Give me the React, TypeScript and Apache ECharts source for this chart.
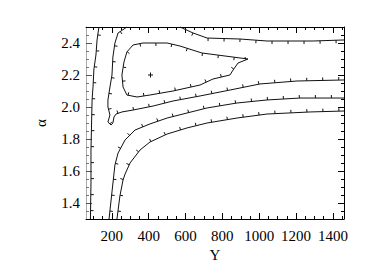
import { useEffect, useRef } from "react";
import * as echarts from "echarts";

// Axis ticks and labels
const xLabels = [200, 400, 600, 800, 1000, 1200, 1400];
const xMinorTicks = [100, 150, 200, 250, 300, 350, 400, 450, 500, 550, 600, 650, 700, 750, 800, 850, 900, 950, 1000, 1050, 1100, 1150, 1200, 1250, 1300, 1350, 1400, 1450];
const yLabels = [1.4, 1.6, 1.8, 2.0, 2.2, 2.4];
const yMinorTicks = [1.35, 1.4, 1.45, 1.5, 1.55, 1.6, 1.65, 1.7, 1.75, 1.8, 1.85, 1.9, 1.95, 2.0, 2.05, 2.1, 2.15, 2.2, 2.25, 2.3, 2.35, 2.4, 2.45];

// Best fit point
const bestFit: [number, number] = [410, 2.2];

// Contours [Y, alpha]
const contourLeft: [number, number][] = [
  [130, 2.5], [120, 2.419], [114, 2.325], [103, 2.2375], [98, 2.125], [93, 2.044], [87, 1.731], [87, 1.525], [84, 1.3],
];
const contourInner: [number, number][] = [
  [255, 2.2], [266, 2.281], [282, 2.344], [315, 2.3875], [369, 2.4], [500, 2.4], [570, 2.381], [689, 2.3375], [939, 2.3],
  [885, 2.275], [858, 2.231], [841, 2.2], [749, 2.175], [679, 2.1375], [532, 2.1], [407, 2.075], [337, 2.0625],
  [282, 2.075], [261, 2.125], [255, 2.2],
];
const contourSecondTop: [number, number][] = [
  [1460, 2.419], [1292, 2.4125], [1042, 2.4125], [896, 2.425], [717, 2.431], [641, 2.4625], [570, 2.5],
];
const contourSecond: [number, number][] = [
  [282, 2.5], [234, 2.4625], [217, 2.4], [206, 2.3125], [201, 2.2], [190, 2.125], [179, 2.044], [179, 2.0], [190, 1.95],
  [179, 1.906], [196, 1.8875], [206, 1.9], [212, 1.9375], [223, 1.956], [255, 1.969], [315, 1.981], [424, 2.006],
  [532, 2.0375], [679, 2.069], [841, 2.106], [1004, 2.144], [1205, 2.1625], [1460, 2.169],
];
const contourThird: [number, number][] = [
  [185, 1.3], [201, 1.469], [217, 1.6375], [234, 1.7125], [272, 1.794], [326, 1.856], [407, 1.894], [500, 1.931],
  [608, 1.9625], [717, 1.994], [879, 2.025], [1042, 2.044], [1221, 2.056], [1460, 2.056],
];
const contourFourth: [number, number][] = [
  [228, 1.3], [244, 1.444], [261, 1.544], [272, 1.581], [299, 1.65], [353, 1.731], [407, 1.781], [500, 1.831],
  [608, 1.869], [717, 1.9], [879, 1.931], [1042, 1.956], [1276, 1.969], [1460, 1.975],
];

const contours = [contourLeft, contourInner, contourSecondTop, contourSecond, contourThird, contourFourth];

const serif = '"Liberation Serif", "DejaVu Serif", serif';
const axisFont = { fontFamily: serif, fontSize: 15, color: "#000" };
const black = "#000";

function contourSeries(points: [number, number][], idx: number) {
  return {
    type: "custom",
    name: "contour" + idx,
    coordinateSystem: "cartesian2d",
    xAxisIndex: 0,
    yAxisIndex: 0,
    silent: true,
    data: [points[0]],
    renderItem: (_params: any, api: any) => {
      const px = points.map((p) => api.coord(p));
      const ref = api.coord(bestFit);
      const children: any[] = [
        { type: "polyline", shape: { points: px }, style: { stroke: "#111", lineWidth: 1, fill: "none" } },
      ];
      const spacing = 16;
      let next = 8;
      let acc = 0;
      for (let i = 0; i < px.length - 1; i++) {
        const [x0, y0] = px[i];
        const [x1, y1] = px[i + 1];
        const dx = x1 - x0;
        const dy = y1 - y0;
        const L = Math.hypot(dx, dy);
        if (L === 0) continue;
        const nx = -dy / L;
        const ny = dx / L;
        while (next <= acc + L) {
          const t = (next - acc) / L;
          const x = x0 + dx * t;
          const y = y0 + dy * t;
          let sx = nx;
          let sy = ny;
          if ((ref[0] - x) * sx + (ref[1] - y) * sy < 0) {
            sx = -sx;
            sy = -sy;
          }
          children.push({
            type: "line",
            shape: { x1: x, y1: y, x2: x + sx * 3, y2: y + sy * 3 },
            style: { stroke: "#111", lineWidth: 1 },
          });
          next += spacing;
        }
        acc += L;
      }
      return { type: "group", children };
    },
  };
}

export default function App() {
  const ref = useRef<HTMLDivElement>(null);
  useEffect(() => {
    document.body.style.margin = "0";
    if (!ref.current) return;
    const chart = echarts.init(ref.current, null, { renderer: "svg" });
    const baseX = { type: "value", min: 60, max: 1460, splitLine: { show: false } };
    const baseY = { type: "value", min: 1.3, max: 2.5, splitLine: { show: false } };
    const line = (show: boolean, color = black) => ({ show, onZero: false, lineStyle: { color, width: 1 } });
    const tick = (values: number[], length: number, color = black) => ({
      show: true,
      inside: true,
      length,
      customValues: values,
      lineStyle: { color, width: 1 },
    });
    chart.setOption({
      animation: false,
      backgroundColor: "#fff",
      grid: { left: 86, right: 26, top: 27, bottom: 54, containLabel: false },
      xAxis: [
        {
          ...baseX,
          position: "bottom",
          axisLine: line(true),
          axisTick: tick(xMinorTicks, 3),
          axisLabel: { show: true, customValues: xLabels, margin: 9, formatter: (v: number) => String(v), ...axisFont },
          name: "Y",
          nameLocation: "middle",
          nameGap: 26,
          nameTextStyle: axisFont,
        },
        { ...baseX, position: "bottom", axisLine: line(false), axisTick: tick(xLabels, 6), axisLabel: { show: false } },
        { ...baseX, position: "top", axisLine: line(true), axisTick: tick(xMinorTicks, 3), axisLabel: { show: false } },
        { ...baseX, position: "top", axisLine: line(false), axisTick: tick(xLabels, 6), axisLabel: { show: false } },
      ],
      yAxis: [
        {
          ...baseY,
          position: "left",
          axisLine: line(true, "#aaa"),
          axisTick: tick(yMinorTicks, 3, "#777"),
          axisLabel: {
            show: true,
            customValues: yLabels,
            margin: 6,
            formatter: (v: number) => v.toFixed(1),
            ...axisFont,
          },
          name: "α",
          nameLocation: "middle",
          nameRotate: 90,
          nameGap: 38,
          nameTextStyle: axisFont,
        },
        { ...baseY, position: "left", axisLine: line(false), axisTick: tick(yLabels, 6, "#555"), axisLabel: { show: false } },
        { ...baseY, position: "right", axisLine: line(true), axisTick: tick(yMinorTicks, 3), axisLabel: { show: false } },
        { ...baseY, position: "right", axisLine: line(false), axisTick: tick(yLabels, 6), axisLabel: { show: false } },
      ],
      series: [
        ...contours.map((c, i) => contourSeries(c, i)),
        {
          type: "custom",
          name: "best fit",
          coordinateSystem: "cartesian2d",
          xAxisIndex: 0,
          yAxisIndex: 0,
          silent: true,
          data: [bestFit],
          renderItem: (_params: any, api: any) => {
            const [x, y] = api.coord([api.value(0), api.value(1)]);
            return {
              type: "group",
              children: [
                { type: "line", shape: { x1: x - 2.5, y1: y, x2: x + 2.5, y2: y }, style: { stroke: "#111", lineWidth: 1 } },
                { type: "line", shape: { x1: x, y1: y - 2.5, x2: x, y2: y + 2.5 }, style: { stroke: "#111", lineWidth: 1 } },
              ],
            };
          },
        },
      ],
    });
    return () => chart.dispose();
  }, []);
  return <div ref={ref} style={{ width: 370, height: 273 }} />;
}
